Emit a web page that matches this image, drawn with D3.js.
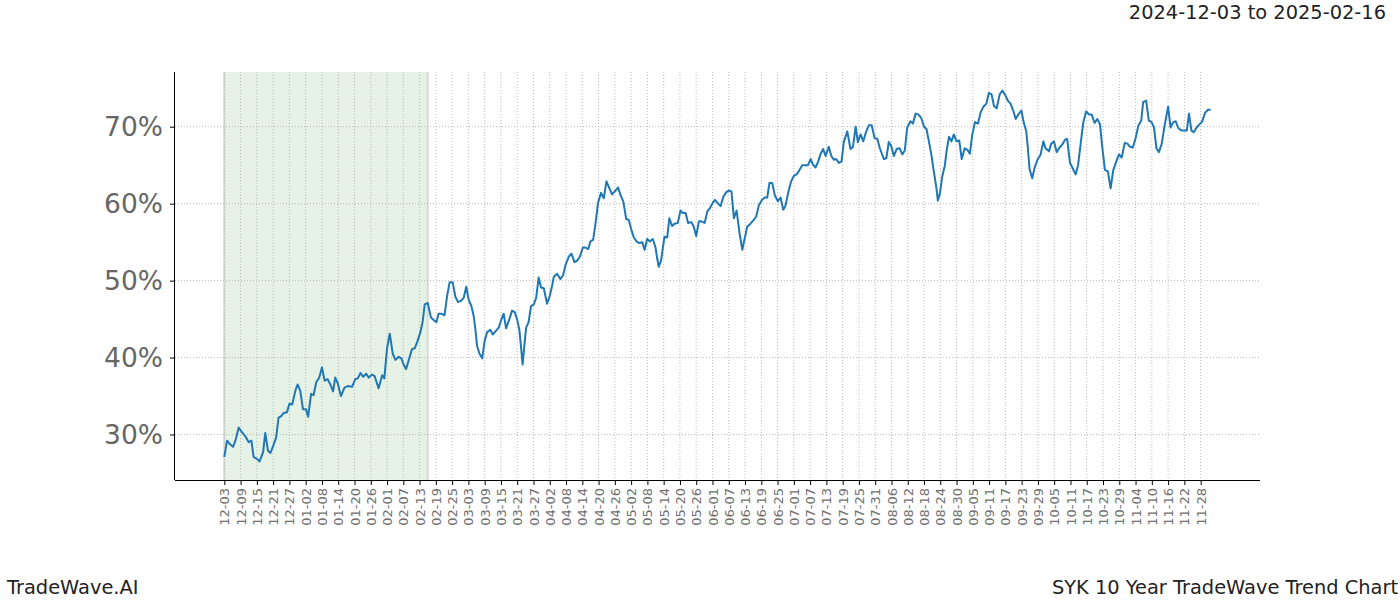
<!DOCTYPE html>
<html>
<head>
<meta charset="utf-8">
<script src="https://cdn.jsdelivr.net/npm/d3@7"></script>
<style>
  html, body { margin: 0; padding: 0; background: #fff; }
  svg { display: block; font-family: "DejaVu Sans", sans-serif; }
</style>
</head>
<body>
<svg id="chart" width="1400" height="600"></svg>
<script>
// ---- data ----
const startDate = "2024-12-03";
const spanStart = "2024-12-03";
const spanEnd = "2025-02-16";
const titleText = "2024-12-03 to 2025-02-16";
const footerLeft = "TradeWave.AI";
const footerRight = "SYK 10 Year TradeWave Trend Chart";

// days since startDate
const dayOffsets = [
  0,1.0,2.2,3.2,4.1,5.3,6.5,7.7,9.0,10.0,10.8,12.1,13.0,14.3,15.1,16.1,17.0,18.0,19.1,20.0,
  21.0,21.9,23.1,24.0,25.0,26.2,27.0,28.0,29.0,30.1,30.9,32.0,32.9,33.9,35.0,36.0,37.0,38.1,39.1,40.1,
  40.9,41.8,43.0,44.3,45.5,47.1,48.3,49.2,50.2,51.2,52.3,53.2,54.5,55.4,56.9,58.2,59.0,60.0,61.0,
  62.1,63.1,64.3,65.3,66.1,67.0,68.2,69.2,70.2,71.1,72.3,73.1,73.9,75.0,76.2,77.5,78.2,79.0,80.0,81.2,
  82.1,83.1,84.2,85.2,86.2,87.4,88.3,89.2,90.1,91.1,92.0,92.6,93.2,94.1,95.1,96.0,96.9,98.1,99.0,100.2,
  101.2,102.1,103.0,103.9,105.1,106.1,107.1,108.0,108.8,109.4,110.0,110.8,111.3,112.2,113.1,114.1,115.0,115.9,116.8,117.8,
  119.0,120.0,120.9,121.5,122.7,123.9,124.9,
  125.8,127.0,128.0,129.1,130.1,131.1,132.2,133.2,134.2,135.0,136.0,136.9,137.8,138.9,139.9,140.9,142.0,143.0,144.2,145.2,
  146.1,147.1,148.2,149.1,150.1,151.0,152.0,152.8,154.1,155.0,155.9,156.9,158.0,159.0,159.6,160.2,161.1,161.8,162.3,163.3,
  164.1,165.1,166.0,167.2,168.2,169.1,170.1,171.0,172.2,173.1,174.0,175.0,175.8,177.1,178.1,179.0,180.1,180.9,
  182.1,183.0,184.0,185.1,186.0,187.0,187.9,188.9,190.0,191.0,191.9,192.8,194.0,195.2,196.1,197.1,198.3,199.3,200.2,201.0,
  202.0,203.0,204.1,205.1,206.1,206.9,207.9,209.0,210.0,211.0,211.8,213.1,214.1,215.2,216.2,217.0,218.0,219.0,219.8,220.8,
  221.7,222.9,223.8,224.8,225.6,226.6,227.6,228.4,229.7,230.9,231.8,232.8,233.6,234.6,235.6,236.7,237.7,238.7,239.8,240.8,241.7,
  243.2,244.1,245.0,245.9,246.9,247.9,249.0,250.0,250.9,251.8,253.0,253.9,254.9,255.9,257.0,258.0,258.9,259.8,260.7,261.6,
  262.5,263.1,263.9,264.7,265.7,266.3,267.2,268.1,269.0,270.0,271.0,271.9,273.0,274.0,274.9,275.8,276.8,277.9,278.9,279.9,
  281.0,281.9,282.9,283.8,284.8,285.9,286.9,287.8,288.9,289.9,290.9,291.8,292.8,293.9,294.8,295.7,296.3,296.9,297.9,298.8,
  299.8,301.0,302.0,
  302.8,304.1,304.9,305.9,306.9,308.0,309.0,310.0,310.8,311.8,312.7,313.9,314.8,315.8,316.7,317.8,318.8,319.8,320.9,321.9,
  322.9,323.7,324.7,325.8,326.8,327.8,328.9,329.9,330.9,332.0,333.0,333.9,335.0,336.0,337.0,338.1,338.8,339.9,340.9,341.9,
  342.8,343.7,344.6,345.6,346.7,348.0,348.9,349.9,350.8,351.8,352.9,353.9,354.9,355.7,356.6,357.5,358.5,359.6,360.6,361.6,
  362.7,363.7
];

// trend value in percent
const values = [
  27.1,29.2,28.7,28.4,29.2,30.9,30.3,29.8,29.0,29.2,27.1,26.8,26.5,27.7,30.2,27.9,27.6,28.5,29.6,32.2,
  32.4,32.8,32.9,34.0,33.9,35.7,36.5,35.7,33.3,33.3,32.3,35.3,35.1,36.8,37.4,38.7,37.0,37.2,36.5,35.6,
  37.4,36.7,35.0,36.1,36.3,36.2,37.2,37.3,38.0,37.5,37.9,37.4,37.8,37.6,36.0,37.7,37.3,41.2,43.1,
  40.5,39.7,40.1,39.9,39.1,38.5,39.9,41.1,41.2,42.0,43.3,44.6,46.9,47.1,45.2,44.8,44.6,45.7,45.7,45.5,
  47.9,49.8,49.8,47.9,47.2,47.4,47.8,49.2,47.5,46.7,45.3,43.6,41.5,40.5,39.9,42.2,43.3,43.6,43.0,43.5,
  43.9,44.9,45.7,43.8,45.0,46.1,45.9,44.9,43.6,41.4,39.1,42.2,43.9,44.6,46.7,46.9,47.8,50.4,49.1,49.0,
  47.0,48.0,49.4,50.5,50.9,50.2,50.7,
  52.0,53.1,53.5,52.4,52.6,53.1,54.3,54.3,54.1,55.1,55.3,57.5,60.1,61.4,60.7,62.9,62.0,61.2,61.7,62.1,
  61.1,60.3,58.0,57.9,56.6,55.6,55.1,54.9,55.0,54.0,55.4,55.1,55.4,54.3,52.9,51.8,52.7,54.5,55.7,55.6,
  58.1,57.1,57.4,57.5,59.1,58.8,58.8,57.5,57.6,57.0,55.8,57.7,57.7,57.5,59.0,59.4,60.1,60.5,
  60.0,59.7,60.9,61.5,61.7,61.6,58.1,59.1,56.1,54.0,55.5,57.0,57.4,57.9,58.3,59.8,60.5,60.8,60.8,62.7,
  62.7,61.1,60.3,60.8,59.2,59.7,61.4,62.9,63.6,63.8,64.2,65.0,65.0,65.0,65.8,65.1,64.7,65.5,66.4,67.1,
  66.2,67.4,66.2,65.7,65.8,65.3,65.5,68.0,69.4,67.1,67.4,70.0,68.0,69.0,68.1,69.4,70.2,70.2,68.5,68.4,67.2,
  65.8,65.9,68.0,67.5,66.2,67.1,67.2,66.4,66.9,69.9,70.7,70.4,71.7,71.6,71.1,70.0,69.7,68.1,66.4,64.2,
  62.2,60.4,61.4,63.5,65.0,66.8,68.7,68.1,69.0,68.1,68.2,65.8,67.2,67.0,66.5,69.0,70.6,70.4,71.9,72.6,
  73.0,74.4,74.2,72.7,72.4,74.2,74.7,74.2,73.4,73.0,72.1,71.0,71.6,72.1,70.5,69.4,67.2,64.5,63.3,64.7,
  65.7,66.4,68.1,
  67.2,66.8,67.8,68.1,66.7,67.3,67.7,68.3,68.4,65.3,64.7,63.8,65.0,67.9,70.5,72.0,71.6,71.6,70.5,71.0,
  70.3,67.4,64.4,64.2,62.0,64.4,65.5,66.4,66.0,67.9,67.8,67.4,67.3,68.5,70.1,70.8,73.2,73.4,70.8,70.6,
  69.9,67.2,66.7,67.7,70.1,72.6,69.9,70.6,70.7,69.8,69.5,69.5,69.5,71.7,69.5,69.3,69.9,70.3,70.7,71.8,
  72.2,72.2
];

const xTickLabels = [
  "12-03","12-09","12-15","12-21","12-27","01-02","01-08","01-14","01-20","01-26",
  "02-01","02-07","02-13","02-19","02-25","03-03","03-09","03-15","03-21","03-27",
  "04-02","04-08","04-14","04-20","04-26","05-02","05-08","05-14","05-20","05-26",
  "06-01","06-07","06-13","06-19","06-25","07-01","07-07","07-13","07-19","07-25",
  "07-31","08-06","08-12","08-18","08-24","08-30","09-05","09-11","09-17","09-23",
  "09-29","10-05","10-11","10-17","10-23","10-29","11-04","11-10","11-16","11-22","11-28"
];
const yTicks = [30, 40, 50, 60, 70];

// ---- layout ----
const svg = d3.select("#chart");
const m = { left: 175, right: 1260, top: 72, bottom: 480 };

const parse = d3.timeParse("%Y-%m-%d");
const t0 = parse(startDate);
const dates = dayOffsets.map(d => new Date(t0.getTime() + d * 86400000));
const tickDates = xTickLabels.map(s => parse((+s.slice(0, 2) === 12 ? "2024-" : "2025-") + s));

const data = dates.map((d, i) => ({ date: d, value: values[i] }));

const xExt = d3.extent(dates);
const xPad = (xExt[1] - xExt[0]) * 0.05;
const x = d3.scaleTime()
  .domain([new Date(+xExt[0] - xPad), new Date(+xExt[1] + xPad)])
  .range([m.left, m.right]);

const yExt = d3.extent(values);
const yPad = (yExt[1] - yExt[0]) * 0.05;
const y = d3.scaleLinear()
  .domain([yExt[0] - yPad, yExt[1] + yPad])
  .range([m.bottom, m.top]);

// shaded span
const sx0 = x(parse(spanStart)), sx1 = x(parse(spanEnd));
svg.append("rect")
  .attr("x", sx0).attr("y", m.top)
  .attr("width", sx1 - sx0).attr("height", m.bottom - m.top)
  .attr("fill", "#e6f2e6");
[sx0, sx1].forEach(v => svg.append("line")
  .attr("x1", v).attr("x2", v).attr("y1", m.top).attr("y2", m.bottom)
  .attr("stroke", "#d3dcd3").attr("stroke-width", 2));

// grid
const grid = svg.append("g");
tickDates.forEach(d => grid.append("line")
  .attr("x1", x(d)).attr("x2", x(d)).attr("y1", m.top).attr("y2", m.bottom)
  .attr("stroke", "#a8a8a8").attr("stroke-width", 0.8).attr("stroke-dasharray", "1,2"));
yTicks.forEach(v => grid.append("line")
  .attr("x1", m.left).attr("x2", m.right).attr("y1", y(v)).attr("y2", y(v))
  .attr("stroke", "#a8a8a8").attr("stroke-width", 0.8).attr("stroke-dasharray", "1,2"));

// line
svg.append("path")
  .datum(data)
  .attr("fill", "none")
  .attr("stroke", "#1f77b4")
  .attr("stroke-width", 2)
  .attr("stroke-linejoin", "round")
  .attr("d", d3.line().x(d => x(d.date)).y(d => y(d.value)));

// axes
const fmt = d3.timeFormat("%m-%d");
const xAxis = svg.append("g")
  .attr("transform", `translate(0,${m.bottom})`)
  .call(d3.axisBottom(x).tickValues(tickDates).tickFormat(fmt).tickSize(5).tickSizeOuter(0));
xAxis.select(".domain").attr("stroke", "#000").attr("stroke-width", 1)
  .attr("d", `M${m.left},0.5H${m.right}`);
xAxis.selectAll(".tick line").attr("stroke", "#000");
xAxis.selectAll(".tick text")
  .attr("font-size", 13)
  .attr("fill", "#707070")
  .attr("font-family", "DejaVu Sans")
  .attr("transform", "rotate(-90)")
  .attr("text-anchor", "end")
  .attr("x", -8)
  .attr("y", 0)
  .attr("dy", "0.35em");

const yAxis = svg.append("g")
  .attr("transform", `translate(${m.left},0)`)
  .call(d3.axisLeft(y).tickValues(yTicks).tickFormat(d => d + "%").tickSize(5).tickSizeOuter(0));
yAxis.select(".domain").attr("stroke", "#000").attr("stroke-width", 1)
  .attr("d", `M-0.5,${m.top}V${m.bottom}`);
yAxis.selectAll(".tick line").attr("stroke", "#000");
yAxis.selectAll(".tick text")
  .attr("font-size", 26.5)
  .attr("fill", "#666")
  .attr("font-family", "DejaVu Sans")
  .attr("x", -12);

// texts
svg.append("text").attr("x", 1386).attr("y", 19).attr("text-anchor", "end")
  .attr("font-size", 19.4).attr("fill", "#222").text(titleText);
svg.append("text").attr("x", 7).attr("y", 594)
  .attr("font-size", 19.4).attr("fill", "#222").text(footerLeft);
svg.append("text").attr("x", 1398).attr("y", 594).attr("text-anchor", "end")
  .attr("font-size", 19.4).attr("fill", "#222").text(footerRight);
</script>
</body>
</html>
